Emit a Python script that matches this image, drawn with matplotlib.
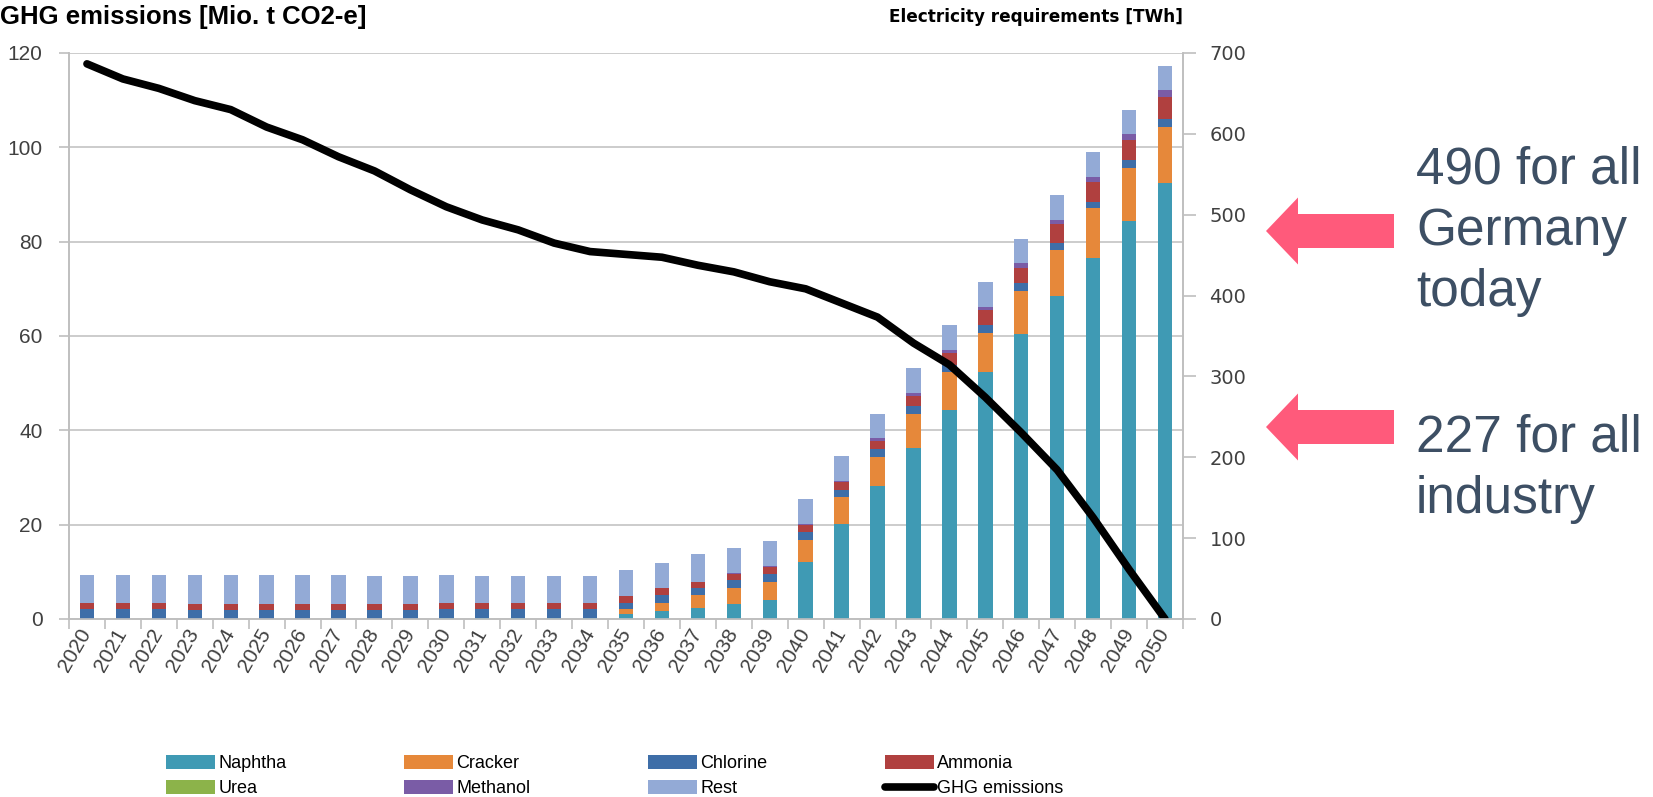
import numpy as np
import matplotlib.pyplot as plt
from matplotlib.patches import FancyArrow

# data
years = list(range(2020, 2051))

# electricity requirements per process [TWh]
naphtha = [0, 0, 0, 0, 0, 0, 0, 0, 0, 0,
           1.5, 1.5, 1.5, 1.5, 1.5, 6, 10, 14, 19, 24,
           70, 118, 165, 212, 259, 306, 353, 399, 447, 492, 539]
cracker = [0, 0, 0, 0, 0, 0, 0, 0, 0, 0,
           0, 0, 0, 0, 0, 6, 10, 16, 19, 22,
           28, 33, 35, 41, 46, 48, 53, 57, 61, 66, 70]
chlorine = [12, 12, 12, 11, 11, 11, 11, 11, 11, 11,
            10.5, 10.5, 10.5, 10.5, 10.5, 8, 10, 8, 10, 10,
            10, 9, 10, 10, 9, 10, 9, 9, 8, 10, 9]
ammonia = [8, 8, 8, 7.5, 7.5, 7.5, 7.5, 7.5, 7.5, 7.5,
           8, 8, 8, 8, 8, 8, 8, 8, 8, 8,
           8, 9, 10, 13, 15, 18, 19, 23, 25, 24, 27]
urea = [0] * 31
methanol = [0, 0, 0, 0, 0, 0, 0, 0, 0, 0,
            0, 0, 0, 0, 0, 0, 0, 0, 1, 1,
            1, 2, 4, 3, 4, 4, 6, 5, 6, 8, 9]
rest = [35, 35, 35, 36.5, 35.5, 35.5, 35.5, 35.5, 34.5, 34.5,
        34, 33, 33, 33, 33, 33, 31, 34, 31, 32,
        32, 31, 29, 32, 31, 31, 30, 31, 30, 29, 30]

# GHG emissions [Mio. t CO2-e]
ghg = [117.7, 114.5, 112.5, 109.9, 108.0, 104.3, 101.6, 98.0, 95.0, 91.0,
       87.4, 84.6, 82.5, 79.7, 77.9, 77.3, 76.7, 75.0, 73.6, 71.5,
       70.0, 67.0, 64.0, 58.5, 53.9, 47.0, 39.5, 31.6, 21.5, 10.5, 0.0]

series = [("Naphtha", naphtha, "#3F9AB4"),
          ("Cracker", cracker, "#E6883A"),
          ("Chlorine", chlorine, "#3E6EA8"),
          ("Ammonia", ammonia, "#B0403F"),
          ("Urea", urea, "#8CB34A"),
          ("Methanol", methanol, "#7A5CA6"),
          ("Rest", rest, "#93AAD6")]

notes = ["490 for all\nGermany\ntoday", "227 for all\nindustry"]

W, H = 1653, 797
fig = plt.figure(figsize=(W / 100, H / 100), dpi=100)
ax = fig.add_axes([69 / W, 1 - 619 / H, (1183 - 69) / W, 566 / H])
ax2 = ax.twinx()

grey = "#BFBFBF"
txt = "#404040"

# stacked bars on the right axis
bottom = np.zeros(len(years))
handles = {}
for name, vals, col in series:
    b = ax2.bar(years, vals, 0.4, bottom=bottom, color=col, linewidth=0)
    handles[name] = b
    bottom += np.array(vals)

# GHG line belongs to the left axis but is drawn above the bars
ln, = ax2.plot(years, ghg, color="black", lw=5.5, transform=ax.transData,
               solid_joinstyle="round", solid_capstyle="round")
handles["GHG emissions"] = ln

ax.set_xlim(2019.5, 2050.5)
ax.set_ylim(0, 120)
ax2.set_ylim(0, 700)
ax.set_yticks(range(0, 121, 20))
ax2.set_yticks(range(0, 701, 100))
ax.yaxis.grid(True, color="#CCCCCC", lw=1.4)
ax.set_axisbelow(True)

ax.set_xticks(years)
ax.set_xticklabels([str(y) for y in years], rotation=60, ha="right",
                   va="center", rotation_mode="anchor", fontsize=15,
                   color=txt, family="Liberation Sans")
ax.set_xticks(np.arange(2019.5, 2051, 1), minor=True)
ax.tick_params(axis="x", which="major", length=0, pad=8)
ax.tick_params(axis="x", which="minor", length=7, color=grey, width=1.2)
ax.tick_params(axis="y", length=7, color=grey, width=1.2, pad=12,
               labelsize=15, labelcolor=txt)
for t in ax.get_yticklabels():
    t.set_family("Liberation Sans")
ax2.tick_params(axis="y", length=9, color=grey, width=1.2, pad=10,
                labelsize=14, labelcolor=txt)
ax2.tick_params(axis="x", length=0)

for a in (ax, ax2):
    a.spines["top"].set_visible(False)
    for s in ("left", "right", "bottom"):
        a.spines[s].set_color(grey)
        a.spines[s].set_linewidth(1.2)

fig.text(0.0, 1 - 17 / H, "GHG emissions [Mio. t CO2-e]", fontsize=18.5,
         fontweight="bold", family="Liberation Sans", va="center", ha="left")
fig.text(1183 / W, 1 - 17 / H, "Electricity requirements [TWh]", fontsize=12.2,
         fontweight="bold", family="DejaVu Sans", va="center", ha="right")

# legend, filled row by row
order = ["Naphtha", "Urea", "Cracker", "Methanol", "Chlorine", "Rest",
         "Ammonia", "GHG emissions"]
fig.legend([handles[k] for k in order], order, ncol=4, frameon=False,
           loc="center left", bbox_to_anchor=(150 / W, 1 - 776 / H),
           handlelength=2.7, handleheight=0.8, handletextpad=0.2,
           columnspacing=6.5, labelspacing=0.45,
           prop={"family": "Liberation Sans", "size": 13})

# pink arrows and notes on the right
pink = "#FF5A7B"
for ytip, note, ytext in [(231, notes[0], 145), (427, notes[1], 413)]:
    x0, x1 = 1266, 1394
    arr = FancyArrow(x1 / W, 1 - ytip / H, -(x1 - x0) / W, 0,
                     width=34 / H, head_width=67 / H, head_length=32 / W,
                     length_includes_head=True, color=pink, lw=0,
                     transform=fig.transFigure)
    fig.add_artist(arr)
    fig.text(1416 / W, 1 - ytext / H, note, fontsize=37, color="#3D4F64",
             family="Liberation Sans", va="top", ha="left", linespacing=1.33)

fig.savefig("out.png", dpi=100)
